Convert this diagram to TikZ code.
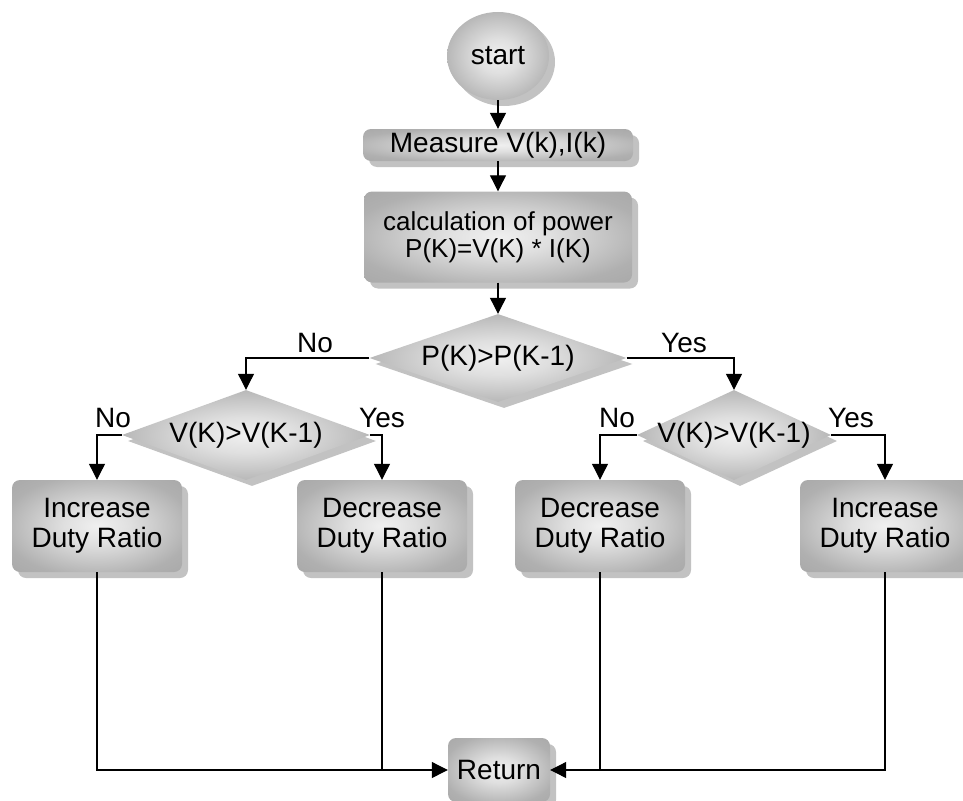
\documentclass[tikz,border=0pt]{standalone}
\usepackage{fontspec}
\setmainfont{Liberation Sans}
\usetikzlibrary{shapes.geometric,arrows.meta,shadows}
\pgfdeclareradialshading{softgray}{\pgfpoint{0bp}{0bp}}{color(0bp)=(gray!12); color(10bp)=(gray!25); color(28bp)=(gray!62); color(45bp)=(gray!74); color(72bp)=(gray!76)}
\begin{document}
\begin{tikzpicture}[x=1pt,y=-1pt,
  softfill/.style={shading=softgray, drop shadow={shadow xshift=6pt, shadow yshift=-6pt, fill=gray!48, opacity=1}},
  box/.style={softfill, rectangle, rounded corners=8pt, inner sep=0pt, align=center, font=\fontsize{28}{30}\selectfont},
  dia/.style={softfill, diamond, inner sep=0pt, font=\fontsize{28}{30}\selectfont},
  lbl/.style={anchor=base, inner sep=0pt, font=\fontsize{28}{30}\selectfont},
  flow/.style={line width=1.1pt, -{Triangle[length=16pt,width=16pt]}},
  wire/.style={line width=1.1pt}]
\useasboundingbox (0,0) rectangle (963,800);
\node[ellipse, softfill, minimum width=102pt, minimum height=88pt, inner sep=0pt, font=\fontsize{28}{30}\selectfont] (start) at (498,56) {start};
\node[box, minimum width=270pt, minimum height=32pt] (meas) at (498,145) {Measure V(k),I(k)};
\node[box, minimum width=268pt, minimum height=91pt, font=\fontsize{26}{27}\selectfont] (calc) at (498,237) {calculation of power\\P(K)=V(K) * I(K)};
\node[dia, minimum width=257pt, minimum height=88pt] (d1) at (498,358) {\makebox[0pt]{P(K)>P(K-1)}};
\node[dia, minimum width=248pt, minimum height=90pt] (d2l) at (246,435) {\makebox[0pt]{V(K)>V(K-1)}};
\node[dia, minimum width=194pt, minimum height=90pt] (d2r) at (734,435) {\makebox[0pt]{V(K)>V(K-1)}};
\node[box, minimum width=170pt, minimum height=92pt] (incl) at (97,526) {Increase\\Duty Ratio};
\node[box, minimum width=170pt, minimum height=92pt] (decl) at (382,526) {Decrease\\Duty Ratio};
\node[box, minimum width=170pt, minimum height=92pt] (decr) at (600,526) {Decrease\\Duty Ratio};
\node[box, minimum width=170pt, minimum height=92pt] (incr) at (885,526) {Increase\\Duty Ratio};
\node[box, minimum width=102pt, minimum height=64pt] (ret) at (499,770) {Return};
\draw[flow] (start.south) -- (meas.north);
\draw[flow] (meas.south) -- (calc.north);
\draw[flow] (calc.south) -- (d1.north);
\draw[flow] (d1.west) -| (d2l.north);
\draw[flow] (d1.east) -| (d2r.north);
\draw[flow] (d2l.west) -| (incl.north);
\draw[flow] (d2l.east) -| (decl.north);
\draw[flow] (d2r.west) -| (decr.north);
\draw[flow] (d2r.east) -| (incr.north);
\draw[flow] (incl.south) |- (ret.west);
\draw[wire] (decl.south) -- (decl.south |- ret.west);
\draw[wire] (decr.south) -- (decr.south |- ret.west);
\draw[flow] (incr.south) |- (ret.east);
\node[lbl] (no1) at (315,352) {No};
\node[lbl] (yes1) at (684,352) {Yes};
\node[lbl] (no2) at (113,427) {No};
\node[lbl] (yes2) at (382,427) {Yes};
\node[lbl] (no3) at (617,427) {No};
\node[lbl] (yes3) at (851,427) {Yes};
\end{tikzpicture}
\end{document}
